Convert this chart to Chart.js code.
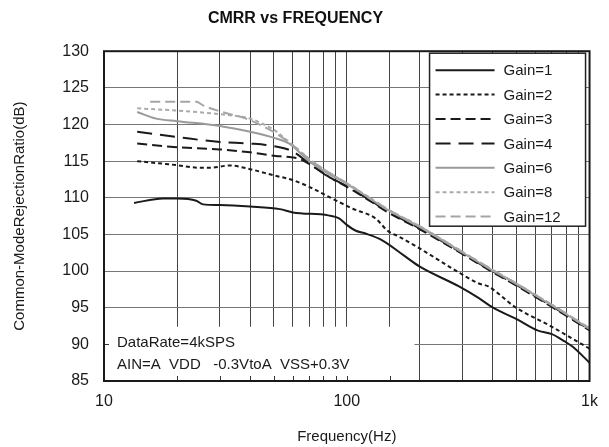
<!DOCTYPE html>
<html>
<head>
<meta charset="utf-8">
<script src="https://cdn.jsdelivr.net/npm/chart.js@4.4.1/dist/chart.umd.min.js"></script>
<style>
  html, body { margin: 0; padding: 0; background: #fff; }
  #wrap { width: 609px; height: 447px; }
</style>
</head>
<body>
<div id="wrap"><canvas id="cmrr"></canvas></div>
<script>
// values (Hz / dB)
const freqG1 = [13.3, 17.5, 20, 24, 25.6, 30, 40, 53, 60, 84, 93, 100, 109, 120, 140, 174, 200, 290, 350, 400, 510, 610, 700, 790, 850, 1000];
const cmrrG1 = [109.3, 109.9, 109.9, 109.6, 109.1, 109.0, 108.8, 108.45, 108.0, 107.6, 107.2, 106.3, 105.5, 105.1, 104.2, 102.0, 100.6, 97.9, 96.3, 95.0, 93.3, 91.9, 91.4, 90.4, 89.7, 87.5];

const freqG2 = [13.7, 20, 24.7, 27.2, 33, 40, 49.5, 60, 70, 87, 100, 106, 131, 148, 164, 204, 280, 350, 383, 493, 700, 1000];
const cmrrG2 = [115.0, 114.45, 114.1, 114.1, 114.4, 113.9, 113.1, 112.4, 111.5, 109.9, 108.9, 108.5, 107.2, 105.45, 104.7, 102.9, 100.1, 98.3, 97.9, 95.1, 92.4, 89.4];

const freqG3 = [13.7, 20, 30, 40, 51, 56, 64, 75, 87, 100, 127, 148, 200, 280, 383, 500, 700, 1000];
const cmrrG3 = [117.4, 116.9, 116.6, 116.2, 115.7, 115.6, 115.3, 114.0, 112.6, 111.5, 109.4, 108.0, 105.7, 102.9, 100.2, 98.0, 95.1, 91.9];

const freqG4 = [13.7, 20, 30, 40, 51, 60, 70, 82, 100, 127, 148, 200, 280, 383, 500, 700, 1000];
const cmrrG4 = [119.0, 118.3, 117.6, 117.4, 117.0, 116.3, 114.7, 113.1, 111.6, 109.5, 108.1, 105.8, 103.0, 100.3, 98.1, 95.2, 92.0];

const freqG6 = [13.7, 16.4, 20, 30, 40, 51, 58, 62, 70, 82, 100, 127, 148, 200, 280, 383, 500, 700, 1000];
const cmrrG6 = [121.7, 120.8, 120.45, 119.8, 119.0, 118.1, 117.4, 116.6, 115.0, 113.5, 111.9, 109.7, 108.3, 106.0, 103.1, 100.4, 98.2, 95.3, 92.1];

const freqG8 = [13.7, 20, 30, 40, 45, 51, 56, 62, 70, 82, 100, 127, 148, 200, 280, 383, 500, 700, 1000];
const cmrrG8 = [122.2, 121.9, 121.4, 120.8, 120.1, 119.1, 118.0, 116.8, 115.3, 113.7, 112.0, 109.8, 108.4, 106.1, 103.2, 100.5, 98.3, 95.4, 92.2];

const freqG12 = [15.5, 24, 25.6, 30, 38.5, 45, 51, 56, 62, 70, 82, 100, 127, 148, 200, 280, 383, 500, 700, 1000];
const cmrrG12 = [123.1, 123.1, 122.6, 121.8, 120.8, 119.8, 118.8, 117.9, 116.8, 115.3, 113.7, 112.0, 109.8, 108.4, 106.1, 103.2, 100.5, 98.3, 95.4, 92.2];

const gainLabels = ['Gain=1', 'Gain=2', 'Gain=3', 'Gain=4', 'Gain=6', 'Gain=8', 'Gain=12'];
const xTickText = { 10: '10', 100: '100', 1000: '1k' };
const noteLines = ['DataRate=4kSPS', 'AIN=A  VDD   -0.3VtoA  VSS+0.3V'];

const FONT = '"Liberation Sans", Arial, sans-serif';
Chart.defaults.font.family = FONT;
Chart.defaults.color = '#1a1a1a';

const toPoints = (fs, vs) => fs.map((f, i) => ({ x: f, y: vs[i] }));

const makeSet = (label, fs, vs, color, dash, order) => ({
	label: label,
	data: toPoints(fs, vs),
	borderColor: color,
	borderDash: dash,
	borderWidth: 2,
	pointRadius: 0,
	fill: false,
	cubicInterpolationMode: 'monotone',
	order: order
});

// white note box in the lower left corner, covers the grid
const notePlugin = {
	id: 'noteBox',
	beforeDatasetsDraw(chart) {
		const { ctx, chartArea, scales } = chart;
		const xRight = scales.x.getPixelForValue(190);
		const yTop = scales.y.getPixelForValue(92.4);
		ctx.save();
		ctx.fillStyle = '#fff';
		ctx.fillRect(chartArea.left, yTop, xRight - chartArea.left, chartArea.bottom - yTop);
		// inner tick marks that remain visible inside the box
		ctx.strokeStyle = '#333';
		ctx.lineWidth = 1;
		scales.x.ticks.forEach((t) => {
			const px = Math.round(scales.x.getPixelForValue(t.value)) + 0.5;
			if (px > xRight) return;
			ctx.beginPath();
			ctx.moveTo(px, chartArea.bottom);
			ctx.lineTo(px, chartArea.bottom - 5);
			ctx.stroke();
		});
		const py = Math.round(scales.y.getPixelForValue(90)) + 0.5;
		ctx.beginPath();
		ctx.moveTo(chartArea.left, py);
		ctx.lineTo(chartArea.left + 5, py);
		ctx.stroke();
		ctx.fillStyle = '#1a1a1a';
		ctx.font = '15px ' + FONT;
		ctx.textBaseline = 'alphabetic';
		ctx.textAlign = 'left';
		ctx.fillText(noteLines[0], chartArea.left + 13, 347);
		ctx.fillText(noteLines[1], chartArea.left + 13, 369);
		ctx.restore();
	}
};

// legend box drawn inside the plot, top right
const legendPlugin = {
	id: 'insideLegend',
	afterDatasetsDraw(chart) {
		const { ctx, chartArea } = chart;
		const boxW = 156, boxH = 173;
		const bx = chartArea.right - 4 - boxW;
		const by = chartArea.top + 2;
		ctx.save();
		ctx.fillStyle = '#fff';
		ctx.fillRect(bx, by, boxW, boxH);
		ctx.strokeStyle = '#222';
		ctx.lineWidth = 1.5;
		ctx.strokeRect(bx, by, boxW, boxH);
		ctx.font = '15px ' + FONT;
		ctx.textBaseline = 'middle';
		chart.data.datasets.forEach((ds, i) => {
			const y = by + 17 + i * 24.4;
			ctx.strokeStyle = ds.borderColor;
			ctx.lineWidth = ds.borderWidth;
			ctx.setLineDash(ds.borderDash);
			ctx.beginPath();
			ctx.moveTo(bx + 6, y);
			ctx.lineTo(bx + 65, y);
			ctx.stroke();
			ctx.setLineDash([]);
			ctx.fillStyle = '#1a1a1a';
			ctx.fillText(ds.label, bx + 74, y + 1);
		});
		ctx.restore();
	}
};

const framePlugin = {
	id: 'frame',
	afterDraw(chart) {
		const { ctx, chartArea } = chart;
		ctx.save();
		ctx.strokeStyle = '#1a1a1a';
		ctx.lineWidth = 2;
		ctx.strokeRect(chartArea.left, chartArea.top, chartArea.right - chartArea.left, chartArea.bottom - chartArea.top);
		ctx.restore();
	}
};

new Chart(document.getElementById('cmrr'), {
	type: 'line',
	data: {
		datasets: [
			makeSet(gainLabels[0], freqG1, cmrrG1, '#1a1a1a', [], 7),
			makeSet(gainLabels[1], freqG2, cmrrG2, '#1a1a1a', [4, 3], 6),
			makeSet(gainLabels[2], freqG3, cmrrG3, '#1a1a1a', [10, 5], 5),
			makeSet(gainLabels[3], freqG4, cmrrG4, '#1a1a1a', [15, 8], 4),
			makeSet(gainLabels[4], freqG6, cmrrG6, '#9a9a9a', [], 3),
			makeSet(gainLabels[5], freqG8, cmrrG8, '#aaaaaa', [4, 3], 2),
			makeSet(gainLabels[6], freqG12, cmrrG12, '#a5a5a5', [10, 5], 1)
		]
	},
	options: {
		responsive: true,
		maintainAspectRatio: false,
		animation: false,
		devicePixelRatio: 1,
		layout: { padding: { top: 0, right: 18, bottom: 0, left: 0 } },
		plugins: {
			legend: { display: false },
			tooltip: { enabled: false },
			title: {
				display: true,
				text: 'CMRR vs FREQUENCY',
				color: '#111',
				font: { size: 16, weight: 'bold' },
				padding: { top: 9, bottom: 23 }
			}
		},
		scales: {
			x: {
				type: 'logarithmic',
				min: 10,
				max: 1000,
				afterFit: (s) => { s.height = 66; },
				border: { display: false },
				grid: { color: '#444', lineWidth: 1, drawTicks: false },
				ticks: {
					autoSkip: false,
					maxRotation: 0,
					padding: 11,
					font: { size: 16 },
					callback: (v) => xTickText[Math.round(v)] || ''
				},
				title: {
					display: true,
					text: 'Frequency(Hz)',
					font: { size: 15 },
					padding: { top: 0, bottom: 1 }
				}
			},
			y: {
				min: 85,
				max: 130,
				afterFit: (s) => { s.width = 104; },
				border: { display: false },
				grid: { color: '#777', lineWidth: 1, drawTicks: false },
				ticks: { stepSize: 5, padding: 15, font: { size: 16 } },
				title: {
					display: true,
					text: 'Common-ModeRejectionRatio(dB)',
					font: { size: 15 },
					padding: { top: 11, bottom: 0 }
				}
			}
		}
	},
	plugins: [notePlugin, legendPlugin, framePlugin]
});
</script>
</body>
</html>
